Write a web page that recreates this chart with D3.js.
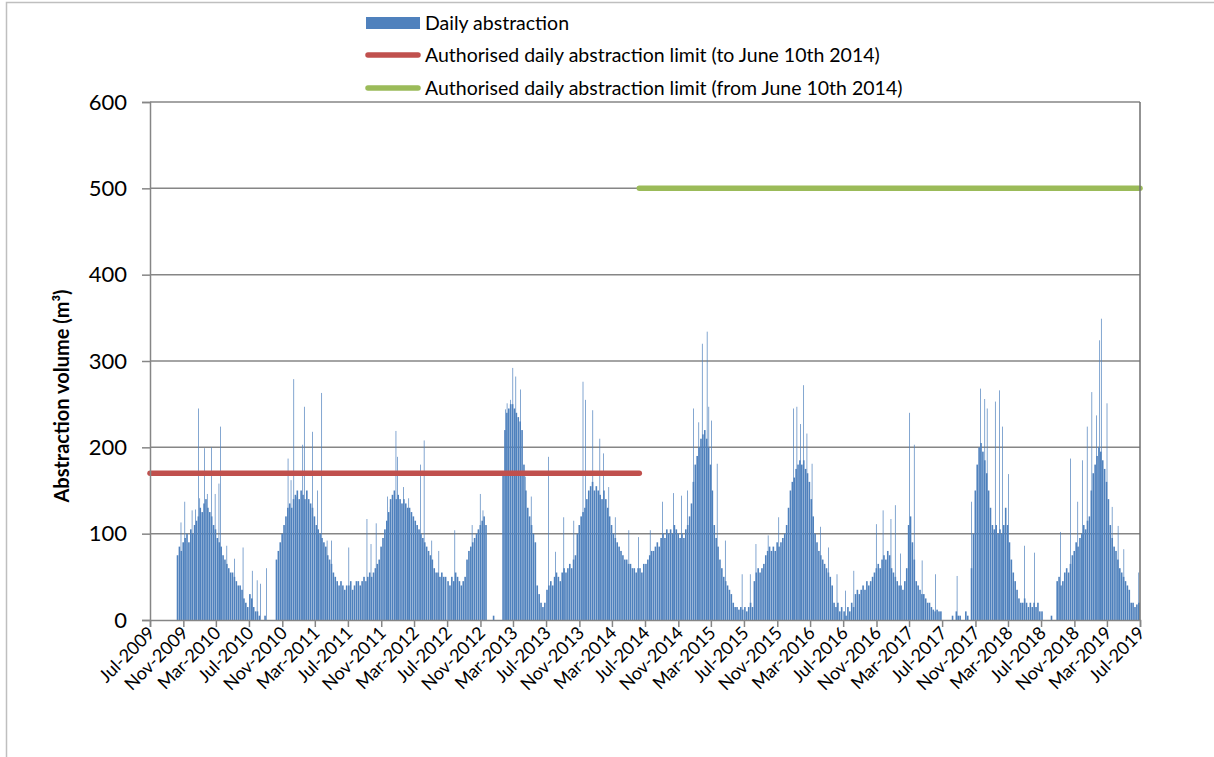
<!DOCTYPE html>
<html>
<head>
<meta charset="utf-8">
<script src="https://cdn.jsdelivr.net/npm/d3@7"></script>
<style>
body { margin: 0; background: #fff; }
svg text { font-family: Lato, "Open Sans", sans-serif; fill: #000; }
</style>
</head>
<body>
<svg id="chart" width="1214" height="757"></svg>
<script>
// weekly abstraction (m3), one array per year from 1 July
var yearStarts = ["2009-07-01", "2010-07-01", "2011-07-01", "2012-07-01", "2013-07-01",
                  "2014-07-01", "2015-07-01", "2016-07-01", "2017-07-01", "2018-07-01"];

var abs0910 = [0,0,0,0,0,0,0,0,0,0,0,0,0,0, 75,85,80,90, 95,100,90,105,100,110,115,120,
               130,125,135,140,130,125,120, 110,105,95,90,85, 75,70,65,60,55, 55,50,45,40,40,35, 25,20,15];
var abs1011 = [30,25,15,10, 10,5,0,0,5,0,0,0,0,0, 70,80,90,100,110, 120,130,135,130,140,
               145,150,140,150,145,140,150,140,135,130, 120,110,105,100, 95,90,85,75,70,65,55, 50,45,40,45,40,35,40];
var abs1112 = [40,45,35,40,45,45,40,45,50,45,50,55,50,55,60,65,70, 85,95,105,115,125,
               140,145,150,140,145,140,135,140,135,130,130, 125,120,115,110,105,100,95, 90,85,80,75,70, 60,55,55,50,55,50,50];
var abs1213 = [45,40,50,45,55,50,45,40,45,50, 70,80,85,90,95,100,105,110,115,120,110, 0,0,0,5,0,0,0,0,
               170,220, 240,245,250,250,245,240,235,230,220, 180,150,130, 120,110,100,90, 40,30,20,15,20];
var abs1314 = [35,40,45,40,50,55,50,45,55,60,55,60,65,60,70,75, 100,110,120,125,130,140,
               150,155,160,150,155,150,145,140,150,140,130,120, 110,100,95,90,85, 80,75,70,70,65,65,60,60,55,60,60,55,65];
var abs1415 = [65, 70,75,80,80,85,90,85, 95,100,95,105,100,105,100,110,105,100, 95,100,95,105,110,120,135,
               160,180,190,200,210,215,220,210,200,180,150, 110,95,85,70,60, 50,45,40,35,30, 20,15,15,12,15,12];
var abs1516 = [15,10,15,20,15, 45,55,60,55,60,65, 75,80,85,80,85,80,90,85,90,95,100,110,
               130,150,160,165,175,180,185,180,185,175,170,160,140,120, 100,90,80,75,70,65,60,55,50,40, 20,15,20,10,15];
var abs1617 = [10,5,15,10,20,15, 30,35,30,35,40,35,45,40,45,50, 55,60,65,60,70,75,70,80,75,60,55,50,45,40,
               40,35,45,60, 110,120,90,70, 45,40,35,30,30,25,20,20, 15,12,10,12,10,10];
var abs1718 = [0,0,0,0,0,5,0,10,5,5,0,0,10,5,0, 60, 100,150,180,200,205,195,185,170,150,130,
               110,105,110,100,105,100,110, 130,110,90,70,55,45,35, 25,20,20,25,20,15,20,15,20,15,20,10];
var abs1819 = [10,0,0,0,0,5,0,0, 45,50,40,45,55,60,55,65, 75,80,90,85,95,100,110,105,115,120,
               150,170,180,190,200,195,185,175,160,140, 110,95,85,80,70,60,55,50,45,40,35, 20,20,15,18,20];

var weeklyAbstraction = [abs0910, abs1011, abs1112, abs1213, abs1314, abs1415, abs1516, abs1617, abs1718, abs1819];

// single days that stand well above the weekly level
var spikeDates = ["2009-10-22","2009-11-05","2009-12-02","2009-12-15","2009-12-26","2009-12-30","2010-01-17","2010-01-27","2010-02-11",
  "2010-02-25","2010-03-11","2010-03-17","2010-04-09","2010-05-08","2010-06-08","2010-07-12","2010-07-30","2010-08-11",
  "2010-09-03","2010-11-21","2010-12-02","2010-12-12","2010-12-24","2011-01-14","2011-01-20","2011-02-05","2011-02-19","2011-03-10","2011-03-25",
  "2011-04-14","2011-04-30","2011-07-03","2011-09-08","2011-09-23","2011-10-12","2011-11-23","2011-12-03","2011-12-24","2011-12-30",
  "2012-01-21","2012-02-09","2012-03-23",
  "2012-04-06","2012-05-04","2012-05-30","2012-07-28","2012-09-30","2012-10-30","2012-11-09","2013-01-31","2013-02-06","2013-02-18","2013-02-27","2013-03-10","2013-03-27",
  "2013-04-14","2013-05-06","2013-07-09","2013-08-03","2013-09-03","2013-10-10","2013-11-13","2013-11-22","2013-12-19",
  "2014-01-14","2014-01-28","2014-02-16","2014-03-12","2014-05-01","2014-06-06","2014-07-19","2014-09-02","2014-10-13",
  "2014-11-11","2014-12-04","2014-12-26","2015-01-14","2015-01-27","2015-02-14","2015-02-20","2015-03-02","2015-03-23","2015-04-22",
  "2015-06-23","2015-07-23","2015-08-13","2015-09-27","2015-11-05","2015-12-30","2016-01-11","2016-01-24","2016-02-05",
  "2016-02-17","2016-03-07","2016-04-07","2016-05-07","2016-06-07","2016-07-08","2016-08-08","2016-10-30","2016-11-24",
  "2016-12-23","2017-01-08","2017-01-27","2017-03-02","2017-03-19","2017-04-17","2017-06-05","2017-08-24","2017-10-16","2017-11-18",
  "2017-12-04","2017-12-13","2018-01-12","2018-01-27","2018-02-08","2018-03-02","2018-04-30","2018-06-06","2018-09-09",
  "2018-10-16","2018-11-12","2018-11-29","2018-12-17","2019-01-03","2019-01-20","2019-02-01","2019-02-07","2019-02-28",
  "2019-03-19","2019-04-10","2019-05-01","2019-06-25"];
var spikeValues = [113,137,127,128,245,141,199,146,200,
  146,158,224,86,71,84,57,46,42,
  60,187,162,279,143,203,247,131,218,150,263,
  92,92,84,117,88,112,143,131,219,189,
  154,141,180,
  208,92,80,104,110,146,127,244,251,255,292,282,267,
  166,143,189,79,119,115,276,255,243,
  210,193,154,119,104,96,104,137,147,
  144,150,245,229,320,334,247,231,181,92,
  53,53,88,98,119,245,247,227,272,
  216,181,108,84,53,34,57,111,127,
  117,133,77,240,203,69,53,51,137,268,
  256,245,253,266,224,169,86,78,102,
  187,137,185,224,264,237,324,349,251,
  131,109,82,55];

var limitLabels = ["Authorised daily abstraction limit (to June 10th 2014)",
                   "Authorised daily abstraction limit (from June 10th 2014)"];
var limitStarts = ["2009-07-01", "2014-06-10"];
var limitEnds = ["2014-06-10", "2019-07-01"];
var limitValues = [170, 500];
var limitColors = ["#c0504d", "#9bbb59"];

var xTickLabels = ["Jul-2009","Nov-2009","Mar-2010","Jul-2010","Nov-2010","Mar-2011","Jul-2011","Nov-2011",
  "Mar-2012","Jul-2012","Nov-2012","Mar-2013","Jul-2013","Nov-2013","Mar-2014","Jul-2014","Nov-2014",
  "Mar-2015","Jul-2015","Nov-2015","Mar-2016","Jul-2016","Nov-2016","Mar-2017","Jul-2017","Nov-2017",
  "Mar-2018","Jul-2018","Nov-2018","Mar-2019","Jul-2019"];
var yTicks = [0, 100, 200, 300, 400, 500, 600];

var parseDay = d3.timeParse("%Y-%m-%d");
var parseTick = d3.timeParse("%b-%Y");
var barColor = "#4f81bd";
var gridColor = "#868686";

// plot box (note: "top" is taken by window.top)
var plotLeft = 150, plotRight = 1140, plotTop = 102, plotBottom = 620;

var svg = d3.select("#chart");

// outer chart frame
svg.append("path")
  .attr("d", "M6.5,757 L6.5,2.5 L1214,2.5")
  .attr("fill", "none").attr("stroke", "#bfbfbf").attr("stroke-width", 1.5);

var x = d3.scaleTime()
  .domain([parseDay("2009-07-01"), parseDay("2019-07-01")])
  .range([plotLeft, plotRight]);
var y = d3.scaleLinear().domain([0, 600]).range([plotBottom, plotTop]);

// gridlines
svg.append("g").selectAll("line").data(yTicks.slice(1)).enter().append("line")
  .attr("x1", plotLeft).attr("x2", plotRight)
  .attr("y1", function(d){ return y(d); }).attr("y2", function(d){ return y(d); })
  .attr("stroke", gridColor).attr("stroke-width", 1.5);

// weekly bars
var weeks = [];
weeklyAbstraction.forEach(function(values, i){
  var start = parseDay(yearStarts[i]);
  values.forEach(function(v, j){
    weeks.push({ date: d3.timeDay.offset(start, 7 * j), value: v });
  });
});

var weekWidth = x(d3.timeDay.offset(x.domain()[0], 7)) - plotLeft;

svg.append("g").selectAll("rect").data(weeks).enter().append("rect")
  .attr("x", function(d){ return x(d.date) + weekWidth * 0.08; })
  .attr("width", weekWidth * 0.84)
  .attr("y", function(d){ return y(d.value); })
  .attr("height", function(d){ return plotBottom - y(d.value); })
  .attr("fill", barColor);

// daily spikes
svg.append("g").selectAll("rect").data(spikeDates).enter().append("rect")
  .attr("x", function(d){ return x(parseDay(d)); })
  .attr("width", 0.7)
  .attr("y", function(d, i){ return y(spikeValues[i]); })
  .attr("height", function(d, i){ return plotBottom - y(spikeValues[i]); })
  .attr("fill", barColor);

// authorised limits
svg.append("g").selectAll("line").data(limitValues).enter().append("line")
  .attr("x1", function(d, i){ return x(parseDay(limitStarts[i])); })
  .attr("x2", function(d, i){ return x(parseDay(limitEnds[i])); })
  .attr("y1", function(d){ return y(d); }).attr("y2", function(d){ return y(d); })
  .attr("stroke", function(d, i){ return limitColors[i]; })
  .attr("stroke-width", 5.5).attr("stroke-linecap", "round");

// axes
var yAxis = svg.append("g").attr("transform", "translate(" + plotLeft + ",0)")
  .call(d3.axisLeft(y).tickValues(yTicks).tickSize(8).tickPadding(15));
yAxis.selectAll("text").style("font-size", "22px").attr("fill", "#000");

var tickDates = xTickLabels.map(function(s){ return parseTick(s); });
var xAxis = svg.append("g").attr("transform", "translate(0," + plotBottom + ")")
  .call(d3.axisBottom(x).tickValues(tickDates).tickSize(7).tickFormat(""));

[yAxis, xAxis].forEach(function(a){
  a.select(".domain").attr("stroke", gridColor).attr("stroke-width", 1.5);
  a.selectAll(".tick line").attr("stroke", gridColor).attr("stroke-width", 1.5);
});

svg.append("line")
  .attr("x1", plotRight).attr("x2", plotRight).attr("y1", plotTop).attr("y2", plotBottom)
  .attr("stroke", "#6f6f6f").attr("stroke-width", 1.5);

svg.append("g").selectAll("text").data(tickDates).enter().append("text")
  .attr("transform", function(d){ return "translate(" + (x(d) + 6) + "," + (plotBottom + 14) + ") rotate(-45)"; })
  .attr("text-anchor", "end")
  .style("font-size", "18px")
  .text(function(d, i){ return xTickLabels[i]; });

svg.append("text")
  .attr("transform", "translate(69,396) rotate(-90)")
  .attr("text-anchor", "middle")
  .style("font-size", "20px").style("font-weight", "bold")
  .text("Abstraction volume (m\u00b3)");

// legend
var legend = svg.append("g");
legend.append("rect").attr("x", 366).attr("y", 17).attr("width", 54).attr("height", 12).attr("fill", barColor);
legend.append("text").attr("x", 425).attr("y", 23).attr("dy", "0.35em")
  .style("font-size", "19.5px").text("Daily abstraction");
limitLabels.forEach(function(label, i){
  var ly = 55 + i * 33;
  legend.append("line").attr("x1", 368).attr("x2", 418).attr("y1", ly).attr("y2", ly)
    .attr("stroke", limitColors[i]).attr("stroke-width", 5.5).attr("stroke-linecap", "round");
  legend.append("text").attr("x", 425).attr("y", ly).attr("dy", "0.35em")
    .style("font-size", "19.5px").text(label);
});
</script>
</body>
</html>
